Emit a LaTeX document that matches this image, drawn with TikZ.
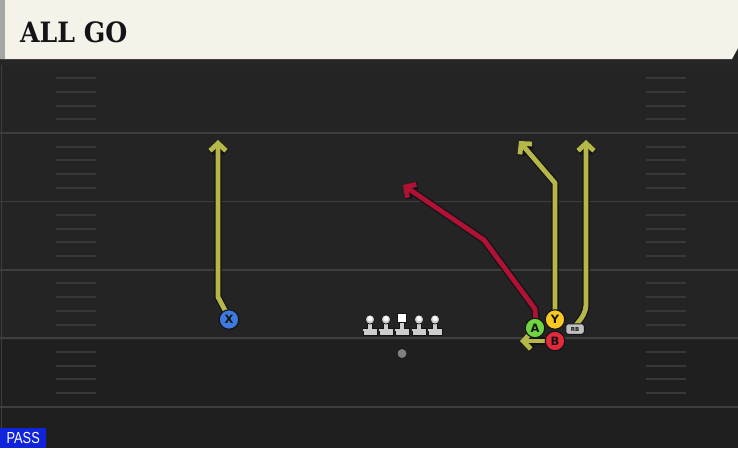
\documentclass[tikz,border=0pt]{standalone}
\usepackage{fontspec}
\setmainfont{Liberation Sans}
\newfontfamily\headfont{DejaVu Serif}
\newfontfamily\labfont{DejaVu Sans}
\usetikzlibrary{arrows.meta}
\definecolor{field}{RGB}{36,36,36}
\definecolor{fieldlow}{RGB}{31,31,31}
\definecolor{yardline}{RGB}{62,62,62}
\definecolor{hashc}{RGB}{56,56,56}
\definecolor{header}{RGB}{245,242,234}
\definecolor{routeY}{RGB}{181,183,72}
\definecolor{routeR}{RGB}{176,18,52}
\definecolor{xblue}{RGB}{62,122,222}
\definecolor{agreen}{RGB}{112,212,62}
\definecolor{yyellow}{RGB}{246,202,32}
\definecolor{bred}{RGB}{226,42,58}
\definecolor{rbgray}{RGB}{192,192,192}
\definecolor{lman}{RGB}{205,205,205}
\definecolor{passblue}{RGB}{16,36,220}
\definecolor{outl}{RGB}{20,20,24}
\tikzset{
  rtip/.tip={Straight Barb[length=7.5pt,width=16pt]},
  routeout/.style={line width=7.4pt,color=outl,line join=round,-rtip},
  routein/.style={line width=4.8pt,line join=round,-rtip},
  player/.style={circle,draw=outl,line width=1.1pt,minimum size=19.5pt,inner sep=0pt,
    font=\labfont\bfseries\fontsize{11.5}{11.5}\selectfont,text=outl},
  rbbox/.style={rounded corners=2.5pt,fill=rbgray,draw=outl,line width=1pt,minimum width=18.5pt,
    minimum height=10.5pt,inner sep=0pt,font=\labfont\bfseries\fontsize{5.5}{5.5}\selectfont,text=outl},
  hashmark/.style={line width=2pt,color=hashc},
  yline/.style={line width=1.8pt,color=yardline},
  lmfill/.style={fill=lman,draw=outl,line width=0.7pt},
}
\begin{document}
\begin{tikzpicture}[x=1pt,y=-1pt]
\useasboundingbox (0,0) rectangle (738,448);
% field
\fill[field] (0,0) rectangle (738,448);
\fill[fieldlow] (0,340) rectangle (738,448);
\draw[line width=1pt,color=yardline] (1.5,64) -- (1.5,448);
% yard lines
\foreach \yy in {133,201.4,269.8,338.2,406.6}
  \draw[yline] (0,\yy) -- (738,\yy);
% hash marks
\foreach \base in {64.6,133,201.4,269.8,338.2}
  \foreach \k in {1,2,3,4}{
    \draw[hashmark] (56,{\base+13.68*\k}) -- (96,{\base+13.68*\k});
    \draw[hashmark] (646,{\base+13.68*\k}) -- (686,{\base+13.68*\k});
  }
% header
\fill[black!85] (0,58) rectangle (738,65);
\fill[header] (0,0) -- (738,0) -- (738,48) -- (732,59) -- (0,59) -- cycle;
\fill[black!35] (0,0) rectangle (4.5,59);
\node[anchor=west,inner sep=0pt,text=outl,xscale=0.9,font=\headfont\bfseries\fontsize{28}{28}\selectfont] (title) at (20,32.5) {ALL GO};
% PASS label
\node[fill=passblue,text=white,anchor=south west,minimum width=46pt,minimum height=20pt,inner sep=0pt,
  font=\fontsize{16}{16}\selectfont] (pass) at (0,448) {\scalebox{0.8}[1]{PASS}};
% route waypoints
\coordinate (xs) at (227,314);
\coordinate (xb) at (218,297);
\coordinate (xe) at (218,140);
\coordinate (ys) at (555,312);
\coordinate (yb) at (555,183);
\coordinate (ye) at (519,141);
\coordinate (rbs) at (576,325);
\coordinate (rbb) at (586,305);
\coordinate (rbe) at (586,140);
\coordinate (as) at (536,322);
\coordinate (ab) at (535,309);
\coordinate (ac) at (484,240);
\coordinate (ae) at (403,185);
\coordinate (bs) at (550,341);
\coordinate (be) at (520,341);
% routes (drawn below players)
\draw[routeout] (xs) -- (xb) -- (xe);
\draw[routein,routeY] (xs) -- (xb) -- (xe);
\draw[routeout] (ys) -- (yb) -- (ye);
\draw[routeout] (rbs) .. controls (582,318) and (586,312) .. (rbb) -- (rbe);
\draw[routein,routeY] (ys) -- (yb) -- (ye);
\draw[routein,routeY] (rbs) .. controls (582,318) and (586,312) .. (rbb) -- (rbe);
\draw[routeout] (as) -- (ab) -- (ac) -- (ae);
\draw[routein,routeR] (as) -- (ab) -- (ac) -- (ae);
\draw[routeout] (bs) -- (be);
\draw[routein,routeY] (bs) -- (be);
% players
\node[player,fill=xblue] (X) at (229,319.5) {X};
\node[rbbox] (RB) at (575,329) {RB};
\node[player,fill=yyellow] (Y) at (555,319.5) {Y};
\node[player,fill=agreen] (A) at (535,328) {A};
\node[player,fill=bred] (B) at (555,341) {B};
% linemen
\foreach \lx/\nm in {370/LT,386/LG,419/RG,435/RT}{
  \fill[lmfill] (\lx-7,328.5) rectangle (\lx+7,335);
  \fill[lmfill] (\lx-2.6,320) rectangle (\lx+2.6,330);
  \fill[lmfill] (\lx,319.5) circle (4.6);
  \fill[lman] (\lx-6.6,328.9) rectangle (\lx+6.6,330.5);
  \fill[white!90!lman] (\lx,318.6) circle (2.6);
  \coordinate (\nm) at (\lx,326);
}
\fill[lmfill] (395,328.5) rectangle (409,335);
\fill[lmfill] (399.4,321) rectangle (404.6,330);
\fill[white,draw=outl,line width=0.7pt] (397.5,313) rectangle (406.5,322);
\fill[lman] (395.4,328.9) rectangle (408.6,330.5);
\coordinate (C) at (402,326);
% ball
\node[circle,fill=black!50,draw=outl,line width=0.7pt,minimum size=10pt,inner sep=0pt] (ball) at (402,353.5) {};
\end{tikzpicture}
\end{document}
